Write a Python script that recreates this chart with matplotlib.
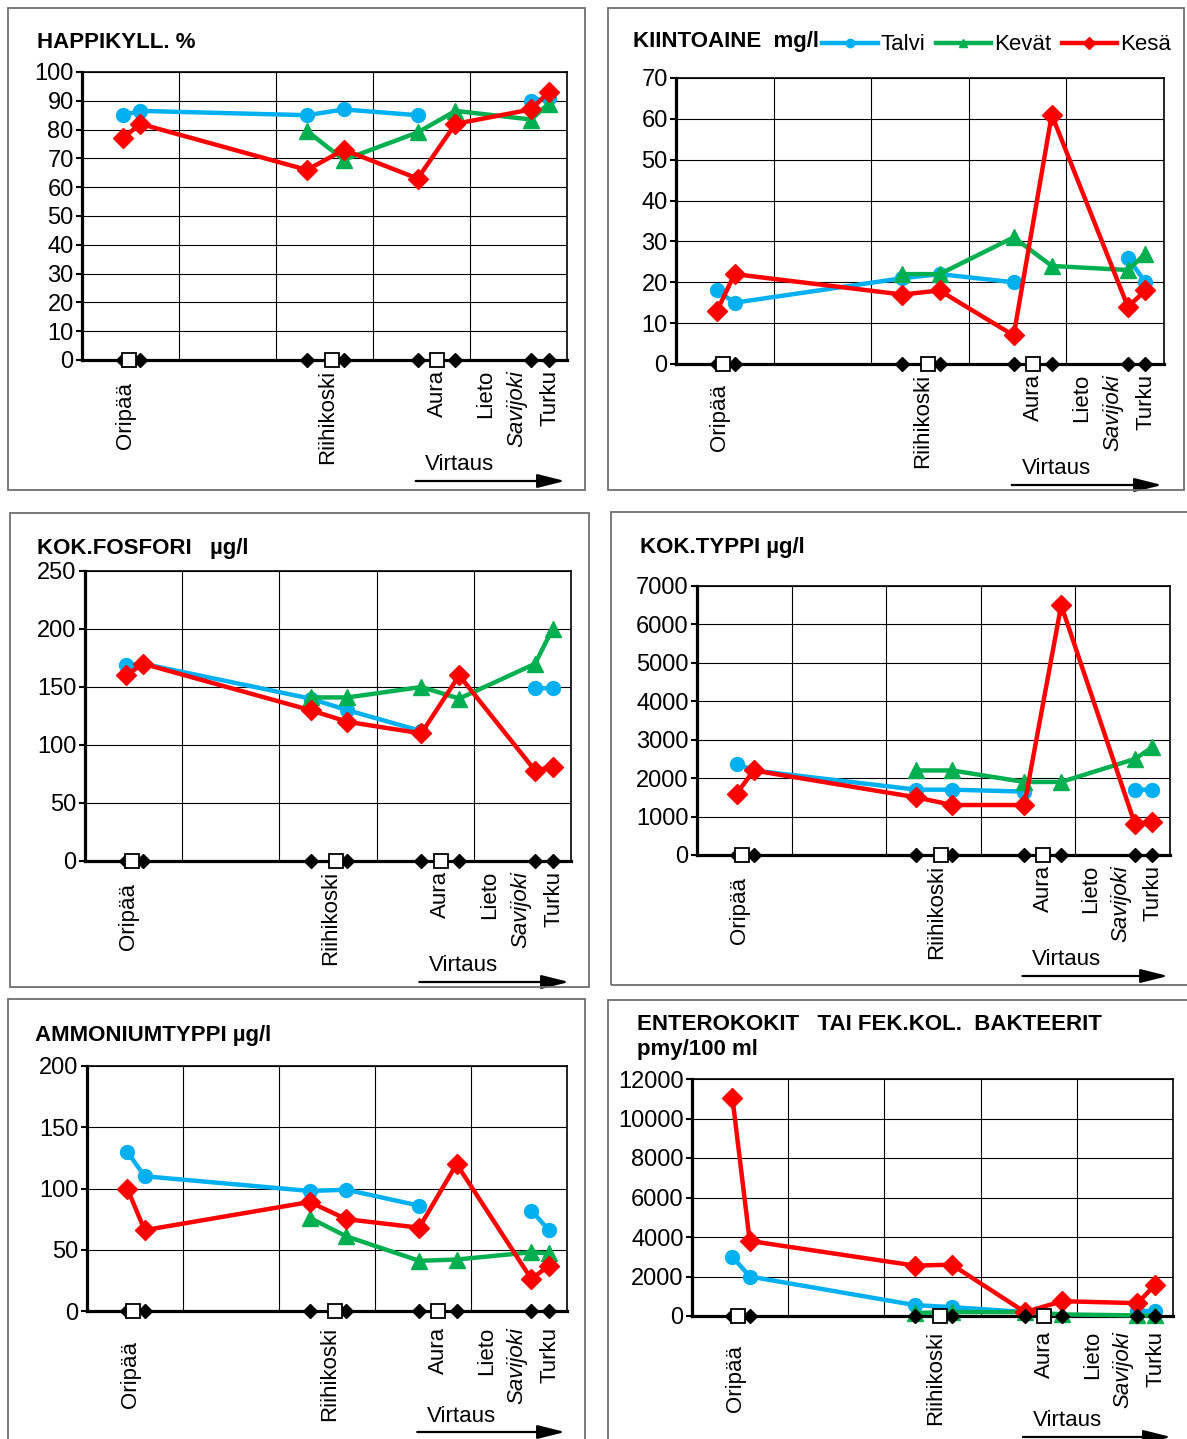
import numpy as np
import matplotlib
matplotlib.use("Agg")
import matplotlib.pyplot as plt
from matplotlib.lines import Line2D
from matplotlib.patches import Rectangle
import matplotlib.transforms as mtransforms

plt.rcParams["font.family"] = ["Liberation Sans", "DejaVu Sans"]

W, H = 1187, 1439
nan = np.nan

# sample points along the river (x = position on the map scale)
naytteet_x = [0.42, 0.60, 2.32, 2.70, 3.46, 3.85, 4.63, 4.81]
asemat_x = [0.48, 2.58, 3.66]

paikat = ["Oripää", "Riihikoski", "Aura", "Lieto", "Savijoki", "Turku"]
paikat_x = [0.45, 2.53, 3.66, 4.16, 4.48, 4.82]

sarjat = ["Talvi", "Kevät", "Kesä"]
varit = ["#00B0F0", "#00B050", "#FF0000"]
merkit = ["o", "^", "D"]

happi_talvi = [85, 86.5, 85, 87, 85, nan, 90, 91]
happi_kevat = [nan, nan, 79.5, 69.5, 79, 86.5, 83.5, 89]
happi_kesa = [77, 82, 66, 73, 63, 82, 87, 93]

kiinto_talvi = [18, 15, 21, 22, 20, nan, 26, 20]
kiinto_kevat = [nan, nan, 22, 22, 31, 24, 23, 27]
kiinto_kesa = [13, 22, 17, 18, 7, 61, 14, 18]

fosfori_talvi = [169, 170, 140, 130, 112, nan, 149, 149]
fosfori_kevat = [nan, nan, 141, 141, 150, 140, 170, 200]
fosfori_kesa = [160, 170, 130, 120, 110, 160, 78, 81]

typpi_talvi = [2370, 2200, 1700, 1700, 1650, nan, 1700, 1700]
typpi_kevat = [nan, nan, 2200, 2200, 1900, 1900, 2500, 2800]
typpi_kesa = [1600, 2200, 1500, 1300, 1300, 6500, 800, 870]

ammonium_talvi = [130, 110, 98, 99, 86, nan, 82, 66]
ammonium_kevat = [nan, nan, 76, 61, 41, 42, 48, 47]
ammonium_kesa = [100, 66, 89, 75, 68, 120, 26, 37]

bakt_talvi = [3000, 2000, 550, 450, 200, nan, 250, 250]
bakt_kevat = [nan, nan, 150, 200, 200, 80, 30, 30]
bakt_kesa = [11050, 3800, 2550, 2600, 200, 750, 650, 1550]

otsikot = ["HAPPIKYLL. %", "KIINTOAINE  mg/l", "KOK.FOSFORI   µg/l",
           "KOK.TYPPI µg/l", "AMMONIUMTYPPI µg/l",
           "ENTEROKOKIT   TAI FEK.KOL.  BAKTEERIT\npmy/100 ml"]
y_max = [100, 70, 250, 7000, 200, 12000]
y_askel = [10, 10, 50, 1000, 50, 2000]
arvot = [
    (happi_talvi, happi_kevat, happi_kesa),
    (kiinto_talvi, kiinto_kevat, kiinto_kesa),
    (fosfori_talvi, fosfori_kevat, fosfori_kesa),
    (typpi_talvi, typpi_kevat, typpi_kesa),
    (ammonium_talvi, ammonium_kevat, ammonium_kesa),
    (bakt_talvi, bakt_kevat, bakt_kesa),
]

# layout in pixels: axes (left, top, right, bottom), frame box, title spot
akselit = [(82, 72, 567, 360), (676, 78, 1164, 364),
           (85, 571, 571, 861), (697, 586, 1170, 855),
           (87, 1066, 567, 1311), (692, 1079, 1173, 1316)]
kehykset = [(8, 8, 585, 490), (608, 8, 1184, 490),
            (10, 513, 589, 987), (611, 512, 1192, 985),
            (8, 999, 585, 1450), (608, 1000, 1192, 1450)]
otsikko_paikat = [(37, 42), (633, 42), (37, 548), (640, 547), (35, 1036), (637, 1037)]
# how far below the axis each place name starts: (Oripää, others)
nimi_siirto = [(22, 10), (20, 10), (22, 10), (22, 10), (30, 16), (29, 15)]

fig = plt.figure(figsize=(W / 100, H / 100), dpi=100)


def fig_rect(l, t, r, b):
    return [l / W, 1 - b / H, (r - l) / W, (b - t) / H]


for i in range(6):
    l, t, r, b = kehykset[i]
    fig.patches.append(Rectangle((l / W, 1 - b / H), (r - l) / W, (b - t) / H,
                                 transform=fig.transFigure, fill=False,
                                 edgecolor="#707070", lw=1.3))

    ax = fig.add_axes(fig_rect(*akselit[i]))
    ax.set_xlim(0, 5)
    ax.set_ylim(0, y_max[i])
    ax.set_yticks(np.arange(0, y_max[i] + 1, y_askel[i]))
    ax.set_xticks([1, 2, 3, 4])
    ax.set_xticklabels([])
    ax.tick_params(axis="x", length=0)
    ax.tick_params(axis="y", length=4, width=1.5, pad=2, labelsize=17)
    ax.grid(True, color="black", lw=0.8)
    ax.set_axisbelow(True)
    for s in ["top", "right"]:
        ax.spines[s].set_linewidth(1.2)
    for s in ["left", "bottom"]:
        ax.spines[s].set_linewidth(2.3)

    for sarja, vari, merkki, y in zip(sarjat, varit, merkit, arvot[i]):
        ms = 11 if merkki == "^" else 10
        ax.plot(naytteet_x, y, color=vari, lw=3.2, marker=merkki, ms=ms,
                clip_on=False, zorder=3)

    ax.plot(naytteet_x, [0] * len(naytteet_x), ls="none", marker="D", ms=7.5,
            color="black", clip_on=False, zorder=5)
    ax.plot(asemat_x, [0] * len(asemat_x), ls="none", marker="s", ms=10.5,
            mfc="white", mec="black", mew=1.3, clip_on=False, zorder=6)

    ori, muut = nimi_siirto[i]
    for nimi, x in zip(paikat, paikat_x):
        siirto = ori if nimi == "Oripää" else muut
        tyyli = "italic" if nimi == "Savijoki" else "normal"
        ax.annotate(nimi, xy=(x, 0), xycoords=("data", "axes fraction"),
                    xytext=(0, -siirto), textcoords="offset pixels",
                    rotation=90, ha="center", va="top", fontsize=16,
                    style=tyyli)

    ax.annotate("Virtaus", xy=(3.54, 0), xycoords=("data", "axes fraction"),
                xytext=(0, -105), textcoords="offset pixels",
                ha="left", va="center", fontsize=16)
    nuoli_tr = mtransforms.offset_copy(ax.get_xaxis_transform(), fig,
                                       x=0, y=-121, units="dots")
    ax.annotate("", xy=(4.98, 0), xytext=(3.44, 0), xycoords=nuoli_tr,
                textcoords=nuoli_tr,
                arrowprops=dict(arrowstyle="-|>,head_length=1.4,head_width=0.35",
                                color="black", lw=1.6, mutation_scale=12,
                                shrinkA=0, shrinkB=0))

    ox, oy = otsikko_paikat[i]
    fig.text(ox / W, 1 - oy / H, otsikot[i], fontsize=16, fontweight="bold",
             ha="left", va="center", linespacing=1.2)

kahvat = [Line2D([], [], color=v, lw=3.2, marker=m, ms=6)
          for v, m in zip(varit, merkit)]
fig.legend(kahvat, sarjat, loc="center left",
           bbox_to_anchor=(822 / W, 1 - 45 / H), ncol=3, frameon=False,
           fontsize=16, handlelength=2.5, handletextpad=0.15,
           columnspacing=0.45, borderpad=0, borderaxespad=0)

fig.savefig("out.png", dpi=100)
